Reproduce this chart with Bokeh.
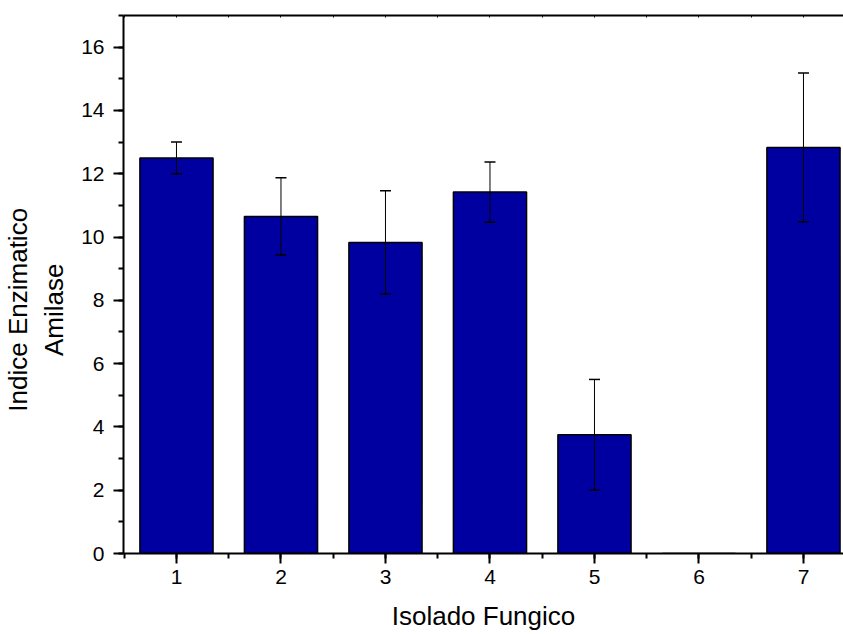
from bokeh.plotting import figure
from bokeh.models import (ColumnDataSource, Whisker, TeeHead, LinearAxis,
                          SingleIntervalTicker, FixedTicker, Range1d)
from bokeh.embed import file_html
from bokeh.resources import INLINE

# data
isolados = [1, 2, 3, 4, 5, 6, 7]
indice = [12.5, 10.65, 9.83, 11.42, 3.75, 0.0, 12.83]
erro = [0.5, 1.22, 1.63, 0.95, 1.75, 0.0, 2.35]
x_tick_labels = ["1", "2", "3", "4", "5", "6", "7"]
x_title = "Isolado Fungico"
y_title_lines = ["Indice Enzimatico", "Amilase"]

FONT = "Liberation Sans"

src = ColumnDataSource(dict(x=isolados, top=indice))
ex = [x for x, e in zip(isolados, erro) if e > 0]
ev = [v for v, e in zip(indice, erro) if e > 0]
ee = [e for e in erro if e > 0]
esrc = ColumnDataSource(dict(x=ex,
                             upper=[v + e for v, e in zip(ev, ee)],
                             lower=[v - e for v, e in zip(ev, ee)]))

p = figure(width=843, height=634,
           x_range=Range1d(0.493, 7.383), y_range=Range1d(0, 17),
           output_backend="svg", toolbar_location=None,
           min_border_left=123, min_border_right=0,
           min_border_top=15, min_border_bottom=81)
p.background_fill_color = "white"
p.border_fill_color = "white"
p.outline_line_color = None
p.xgrid.visible = False
p.ygrid.visible = False

p.vbar(x="x", top="top", width=0.7, bottom=0, source=src,
       fill_color="#0000A0", line_color="black", line_width=1.5)

w = Whisker(base="x", upper="upper", lower="lower", source=esrc,
            level="overlay", line_color="black", line_width=1,
            upper_head=TeeHead(size=11, line_color="black", line_width=1.5),
            lower_head=TeeHead(size=11, line_color="black", line_width=1.5))
p.add_layout(w)

p.xaxis.ticker = SingleIntervalTicker(interval=1, num_minor_ticks=2)
p.yaxis.ticker = SingleIntervalTicker(interval=2, num_minor_ticks=2)
p.xaxis.major_label_overrides = {i: s for i, s in zip(isolados, x_tick_labels)}

for ax in (p.xaxis[0], p.yaxis[0]):
    ax.axis_line_width = 2
    ax.axis_line_color = "black"
    ax.major_tick_line_width = 2
    ax.minor_tick_line_width = 2
    ax.major_tick_out = 10
    ax.major_tick_in = 0
    ax.minor_tick_out = 5
    ax.minor_tick_in = 0
    ax.major_label_text_font = FONT
    ax.major_label_text_font_size = "21px"
    ax.major_label_text_color = "black"
    ax.axis_label_text_font = FONT
    ax.axis_label_text_font_size = "26px"
    ax.axis_label_text_font_style = "normal"
    ax.axis_label_text_color = "black"

# the reference's y title sits a little below the frame centre:
# pad the end of each line with no-break spaces to nudge it down
pad = "\u00a0" * 7
p.xaxis.axis_label = x_title
p.yaxis.axis_label = "\n".join(s + pad for s in y_title_lines)
p.xaxis.major_label_standoff = 6
p.yaxis.major_label_standoff = 9
p.xaxis.axis_label_standoff = 14
p.xaxis.axis_label_text_line_height = 0.7
p.yaxis.axis_label_standoff = 9
p.yaxis.axis_label_text_align = "center"

half_ticks = sorted([i - 0.5 for i in isolados] + isolados + [isolados[-1] + 0.5])
top = LinearAxis(ticker=FixedTicker(ticks=[], minor_ticks=half_ticks),
                 axis_line_width=2, axis_line_color="black",
                 major_tick_out=0, major_tick_in=0, minor_tick_out=0,
                 minor_tick_in=2, minor_tick_line_width=1,
                 major_label_standoff=0)
p.add_layout(top, "above")

open("out.html", "w").write(file_html(p, INLINE))
